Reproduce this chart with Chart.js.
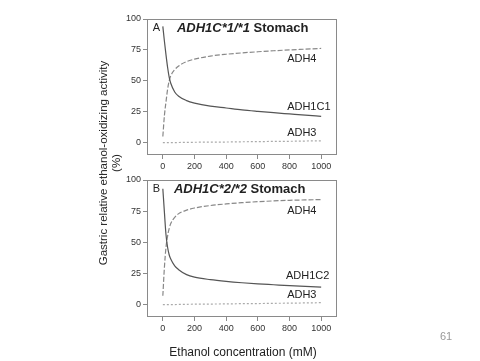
<!DOCTYPE html>
<html>
<head>
<meta charset="utf-8">
<script src="https://cdn.jsdelivr.net/npm/chart.js@4.4.1/dist/chart.umd.min.js"></script>
<style>
  body { margin: 0; background: #fff; width: 480px; height: 361px; overflow: hidden; position: relative; font-family: "Liberation Sans", Arial, sans-serif; }
  canvas { position: absolute; left: 0; }
  #chartA { top: 0; }
  #chartB { top: 170px; }
  .ytitle { position: absolute; left: -20px; top: 150px; width: 260px; height: 26px; transform: rotate(-90deg); text-align: center; font-size: 11.5px; line-height: 13px; color: #222; }
  .xtitle { position: absolute; left: 143px; top: 345px; width: 200px; text-align: center; font-size: 12px; color: #222; }
  .page { position: absolute; left: 440px; top: 330px; font-size: 11px; color: #999; }
</style>
</head>
<body>
<canvas id="chartA" width="480" height="172"></canvas>
<canvas id="chartB" width="480" height="180"></canvas>
<div class="ytitle">Gastric relative ethanol-oxidizing activity<br>(%)</div>
<div class="xtitle">Ethanol concentration (mM)</div>
<div class="page">61</div>
<script>
const ethanol = [0, 10, 20, 30, 40, 50, 75, 100, 150, 200, 300, 400, 500, 600, 700, 800, 900, 1000];

const adh1c1A = [94, 82, 71, 61, 53, 48, 41, 37.5, 34, 32, 29.5, 28, 26.5, 25.3, 24.2, 23.2, 22.2, 21.3];
const adh4A = [5, 22, 33, 43, 50, 54, 59, 62, 65.5, 67.5, 70, 71.5, 72.6, 73.5, 74.3, 75, 75.6, 76.2];
const adh3A = [0, 0, 0, 0, 0, 0, 0, 0.1, 0.2, 0.3, 0.4, 0.5, 0.7, 0.8, 1, 1.1, 1.3, 1.5];

const adh1c2B = [93, 74, 56, 46, 40, 36.5, 31, 28, 24, 22, 20, 18.6, 17.5, 16.6, 15.9, 15.2, 14.6, 14];
const adh4B = [7, 30, 46, 55, 61, 65, 70, 73, 75.8, 77.5, 79.5, 80.8, 81.8, 82.6, 83.2, 83.7, 84, 84.3];
const adh3B = [0, 0, 0, 0, 0, 0, 0, 0.1, 0.2, 0.3, 0.4, 0.5, 0.7, 0.8, 1, 1.1, 1.3, 1.5];

const xTicks = [0, 200, 400, 600, 800, 1000];
const yTicks = [0, 25, 50, 75, 100];

const fontFamily = '"Liberation Sans", Arial, sans-serif';

function pts(ys) {
    return ethanol.map((x, i) => ({ x: x, y: ys[i] }));
}

// box around plot + curve labels + panel title
const panelPlugin = {
    id: 'panel',
    afterDraw(chart) {
        const ctx = chart.ctx;
        const area = chart.chartArea;
        const xs = chart.scales.x;
        const ys = chart.scales.y;
        const opts = chart.options.plugins.panel;
        ctx.save();
        ctx.strokeStyle = '#8a8a8a';
        ctx.lineWidth = 1;
        ctx.strokeRect(area.left + 0.5, area.top + 0.5, area.width - 1, area.height - 1);

        ctx.fillStyle = '#222';
        ctx.textBaseline = 'middle';
        ctx.textAlign = 'left';
        ctx.font = '11px ' + fontFamily;
        opts.labels.forEach(l => {
            ctx.fillText(l.text, xs.getPixelForValue(l.x), ys.getPixelForValue(l.y));
        });

        ctx.fillText(opts.letter, xs.getPixelForValue(-63), ys.getPixelForValue(92.7));

        let tx = xs.getPixelForValue(opts.titleX);
        const ty = ys.getPixelForValue(92.7);
        ctx.font = 'italic bold 13px ' + fontFamily;
        ctx.fillText(opts.gene, tx, ty);
        tx += ctx.measureText(opts.gene).width;
        ctx.font = 'bold 13px ' + fontFamily;
        ctx.fillText(' Stomach', tx, ty);
        ctx.restore();
    }
};

function makeChart(id, c1, c4, c3, panelOpts, padTop, padBottom) {
    return new Chart(document.getElementById(id), {
        type: 'line',
        data: {
            datasets: [
                { data: pts(c1), borderColor: '#555', borderWidth: 1.2 },
                { data: pts(c4), borderColor: '#888', borderWidth: 1.2, borderDash: [5, 2] },
                { data: pts(c3), borderColor: '#aaa', borderWidth: 1.2, borderDash: [2, 2] }
            ]
        },
        options: {
            responsive: false,
            animation: false,
            elements: {
                point: { radius: 0 },
                line: { cubicInterpolationMode: 'monotone', fill: false }
            },
            layout: { padding: { left: 107, right: 143, top: padTop, bottom: padBottom } },
            plugins: {
                legend: { display: false },
                tooltip: { enabled: false },
                panel: panelOpts
            },
            scales: {
                x: {
                    type: 'linear',
                    min: -100,
                    max: 1100,
                    afterBuildTicks: s => { s.ticks = xTicks.map(v => ({ value: v })); },
                    afterFit: s => { s.height = 17; },
                    border: { display: false },
                    grid: { drawOnChartArea: false, tickLength: 4, color: '#8a8a8a' },
                    ticks: { color: '#333', padding: 2, maxRotation: 0, font: { size: 9, family: fontFamily }, callback: v => String(v) }
                },
                y: {
                    type: 'linear',
                    min: -10,
                    max: 100,
                    afterBuildTicks: s => { s.ticks = yTicks.map(v => ({ value: v })); },
                    afterFit: s => { s.width = 40; },
                    border: { display: false },
                    grid: { drawOnChartArea: false, tickLength: 4, color: '#8a8a8a' },
                    ticks: { color: '#333', padding: 2, font: { size: 9, family: fontFamily }, callback: v => String(v) }
                }
            }
        },
        plugins: [panelPlugin]
    });
}

makeChart('chartA', adh1c1A, adh4A, adh3A, {
    letter: 'A',
    gene: 'ADH1C*1/*1',
    titleX: 89,
    labels: [
        { text: 'ADH4', x: 785, y: 67.7 },
        { text: 'ADH1C1', x: 785, y: 29 },
        { text: 'ADH3', x: 785, y: 8 }
    ]
}, 19, 0);

makeChart('chartB', adh1c2B, adh4B, adh3B, {
    letter: 'B',
    gene: 'ADH1C*2/*2',
    titleX: 70,
    labels: [
        { text: 'ADH4', x: 785, y: 75 },
        { text: 'ADH1C2', x: 778, y: 22.6 },
        { text: 'ADH3', x: 785, y: 7.3 }
    ]
}, 10, 16);
</script>
</body>
</html>
